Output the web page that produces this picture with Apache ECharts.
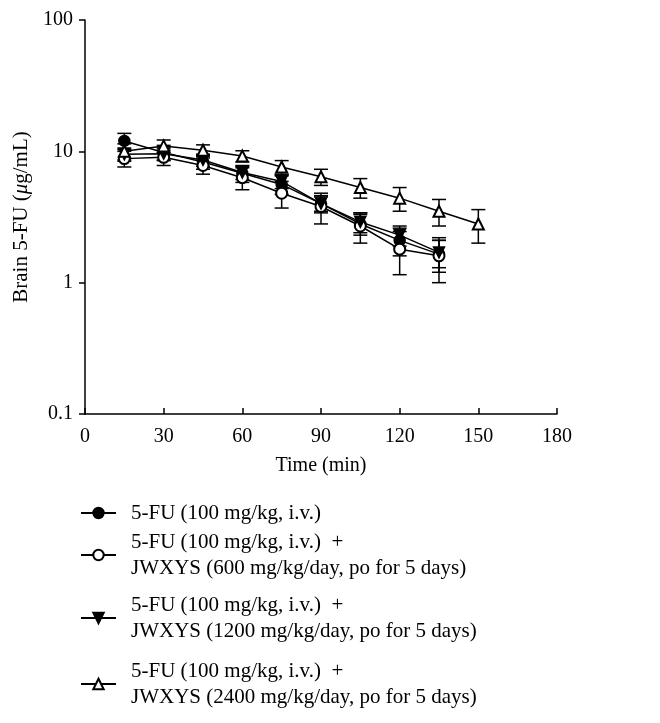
<!DOCTYPE html>
<html>
<head>
<meta charset="utf-8">
<script src="https://cdn.jsdelivr.net/npm/echarts@6/dist/echarts.min.js"></script>
<style>
  html, body { margin: 0; padding: 0; background: #fff; }
  #chart { width: 660px; height: 723px; }
</style>
</head>
<body>
<div id="chart"></div>
<script>
  // 时间点 (min)
  let times = [15, 30, 45, 60, 75, 90, 105, 120, 135];
  let times2400 = [15, 30, 45, 60, 75, 90, 105, 120, 135, 150];
  let xTicks = [0, 30, 60, 90, 120, 150, 180];
  let yTicks = ['0.1', '1', '10', '100'];

  // 各组脑内 5-FU 浓度与误差
  let fu = [12.0, 9.8, 8.3, 6.8, 5.6, 4.0, 2.8, 2.1, 1.65];
  let fuErr = [1.7, 1.3, 1.0, 1.0, 0.9, 0.6, 0.5, 0.5, 0.45];
  let jw600 = [8.8, 9.0, 7.8, 6.3, 4.8, 3.8, 2.7, 1.8, 1.6];
  let jw600Err = [1.2, 1.2, 1.1, 1.2, 1.1, 1.0, 0.7, 0.65, 0.6];
  let jw1200 = [9.5, 9.6, 8.6, 6.9, 5.9, 4.0, 2.9, 2.3, 1.7];
  let jw1200Err = [1.1, 1.0, 0.9, 0.8, 0.7, 0.5, 0.5, 0.4, 0.4];
  let jw2400 = [10.0, 11.0, 10.2, 9.2, 7.6, 6.4, 5.3, 4.4, 3.5, 2.8];
  let jw2400Err = [1.4, 1.2, 1.0, 0.9, 0.9, 0.9, 0.9, 0.9, 0.8, 0.8];

  let names = [
    '5-FU (100 mg/kg, i.v.)',
    '5-FU (100 mg/kg, i.v.)  +\nJWXYS (600 mg/kg/day, po for 5 days)',
    '5-FU (100 mg/kg, i.v.)  +\nJWXYS (1200 mg/kg/day, po for 5 days)',
    '5-FU (100 mg/kg, i.v.)  +\nJWXYS (2400 mg/kg/day, po for 5 days)'
  ];

  let font = 'Liberation Serif';
  let downTriangle = 'path://M0,0 L10,0 L5,10 Z';

  function lineSeries(name, x, y, symbol) {
    return {
      name: name,
      type: 'line',
      data: x.map((t, i) => [t, y[i]]),
      symbol: symbol,
      symbolSize: 11,
      showAllSymbol: true,
      z: 3,
      lineStyle: {color: '#000', width: 1.5},
      itemStyle: {color: '#000', borderColor: '#000', borderWidth: 1.5}
    };
  }

  // 误差棒
  function errorBars(x, y, err) {
    return {
      type: 'custom',
      silent: true,
      z: 1,
      data: x.map((t, i) => [t, y[i] - err[i], y[i] + err[i]]),
      encode: {x: 0, y: [1, 2]},
      renderItem: (params, api) => {
        let lo = api.coord([api.value(0), api.value(1)]);
        let hi = api.coord([api.value(0), api.value(2)]);
        let w = 7;
        let st = {stroke: '#000', lineWidth: 1.5};
        return {
          type: 'group',
          children: [
            {type: 'line', shape: {x1: lo[0], y1: lo[1], x2: hi[0], y2: hi[1]}, style: st},
            {type: 'line', shape: {x1: lo[0] - w, y1: lo[1], x2: lo[0] + w, y2: lo[1]}, style: st},
            {type: 'line', shape: {x1: hi[0] - w, y1: hi[1], x2: hi[0] + w, y2: hi[1]}, style: st}
          ]
        };
      }
    };
  }

  function legendFor(name, top) {
    return {
      data: [name],
      left: 75,
      top: top,
      orient: 'vertical',
      itemWidth: 35,
      itemHeight: 13,
      selectedMode: false,
      textStyle: {
        fontFamily: font, fontSize: 21, color: '#000',
        lineHeight: 26, padding: [0, 0, 0, 10]
      }
    };
  }

  let chart = echarts.init(document.getElementById('chart'));
  chart.setOption({
    animation: false,
    backgroundColor: '#fff',
    grid: {left: 85, right: 103, top: 20, bottom: 309},
    legend: [
      legendFor(names[0], 495),
      legendFor(names[1], 524),
      legendFor(names[2], 587),
      legendFor(names[3], 653)
    ],
    xAxis: {
      type: 'value',
      min: xTicks[0],
      max: xTicks[xTicks.length - 1],
      interval: 30,
      name: 'Time (min)',
      nameLocation: 'middle',
      nameGap: 42,
      nameTextStyle: {fontFamily: font, fontSize: 20, color: '#000'},
      axisLine: {lineStyle: {color: '#000', width: 1.5}},
      axisTick: {inside: true, length: 6, lineStyle: {color: '#000', width: 1.5}},
      axisLabel: {fontFamily: font, fontSize: 20, color: '#000', margin: 13},
      splitLine: {show: false}
    },
    yAxis: {
      type: 'log',
      logBase: 10,
      min: 0.1,
      max: 100,
      name: '{a|Brain 5-FU (}{i|μ}{a|g/mL)}',
      nameLocation: 'middle',
      nameGap: 50,
      nameTextStyle: {
        rich: {
          a: {fontFamily: font, fontSize: 21, color: '#000'},
          i: {fontFamily: font, fontSize: 21, color: '#000', fontStyle: 'italic'}
        }
      },
      axisLine: {show: true, lineStyle: {color: '#000', width: 1.5}},
      axisTick: {show: true, length: 6, lineStyle: {color: '#000', width: 1.5}},
      axisLabel: {
        fontFamily: font, fontSize: 20, color: '#000', margin: 12,
        formatter: v => yTicks.find(t => Math.abs(+t - v) < 1e-6) || ''
      },
      splitLine: {show: false},
      minorTick: {show: false}
    },
    series: [
      errorBars(times, fu, fuErr),
      errorBars(times, jw600, jw600Err),
      errorBars(times, jw1200, jw1200Err),
      errorBars(times2400, jw2400, jw2400Err),
      lineSeries(names[0], times, fu, 'circle'),
      lineSeries(names[1], times, jw600, 'emptyCircle'),
      lineSeries(names[2], times, jw1200, downTriangle),
      lineSeries(names[3], times2400, jw2400, 'emptyTriangle')
    ]
  });
</script>
</body>
</html>
